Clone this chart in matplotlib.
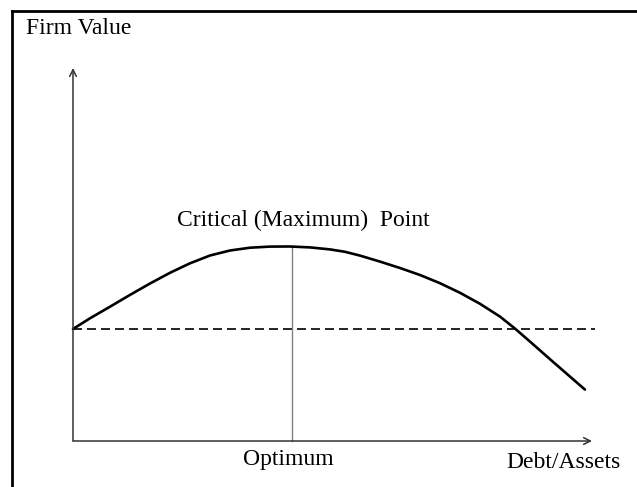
import matplotlib
matplotlib.use("Agg")
import matplotlib.pyplot as plt
from matplotlib.lines import Line2D

# Conceptual data (arbitrary units): debt/assets ratio vs firm value
debt_ratio = [0.00, 0.34, 0.74, 1.14, 1.54, 1.94, 2.34, 2.74, 3.14, 3.54, 3.94, 4.34,
              4.74, 5.14, 5.44, 5.74, 6.14, 6.54, 6.94, 7.34, 7.74, 8.14, 8.54, 8.84,
              9.14, 9.54, 9.94, 10.24]
firm_value = [2.240, 2.454, 2.686, 2.922, 3.150, 3.364, 3.554, 3.710, 3.810, 3.866,
              3.888, 3.890, 3.872, 3.832, 3.784, 3.708, 3.588, 3.460, 3.320, 3.156,
              2.964, 2.744, 2.488, 2.248, 1.988, 1.636, 1.288, 1.028]
unlevered_value = 2.24
optimum_x = 4.38
optimum_y = 3.89
x_axis_end = 10.38
y_axis_end = 7.46
dash_end = 10.44

label_y = "Firm Value"
label_x = "Debt/Assets"
label_peak = "Critical (Maximum)  Point"
label_opt = "Optimum"

fig = plt.figure(figsize=(6.37, 4.87), dpi=100)
ax = fig.add_axes([0, 0, 1, 1])
ax.set_xlim(-1.46, 11.28)
ax.set_ylim(-0.92, 8.82)
ax.axis("off")

serif = "Liberation Serif"
fs = 17

# border (left and top)
fig.add_artist(Line2D([12/637, 12/637], [0, 1 - 10.5/487], transform=fig.transFigure,
                      color="black", lw=2.0))
fig.add_artist(Line2D([12/637, 1], [1 - 10.5/487, 1 - 10.5/487], transform=fig.transFigure,
                      color="black", lw=2.0))

# axes arrows
arrow_kw = dict(arrowstyle="->", color="#333333", lw=1.1, shrinkA=0, shrinkB=0,
                mutation_scale=12)
ax.annotate("", xy=(x_axis_end, 0), xytext=(0, 0), arrowprops=arrow_kw)
ax.annotate("", xy=(0, y_axis_end), xytext=(0, 0), arrowprops=arrow_kw)

# dashed reference line
ax.plot([0, dash_end], [unlevered_value, unlevered_value], color="black", lw=1.2,
        ls=(0, (5.4, 3.0)))

# optimum vertical
ax.plot([optimum_x, optimum_x], [0, optimum_y], color="#808080", lw=1.0)

# curve
ax.plot(debt_ratio, firm_value, color="black", lw=1.9, solid_capstyle="round",
        solid_joinstyle="round")

# texts
ax.text(-0.94, 8.26, label_y, fontsize=fs, family=serif, ha="left", va="center")
ax.text(8.66, -0.44, label_x, fontsize=fs, family=serif, ha="left", va="center")
ax.text(optimum_x - 0.08, -0.37, label_opt, fontsize=fs, family=serif, ha="center", va="center")
ax.text(2.08, 4.42, label_peak, fontsize=fs, family=serif, ha="left", va="center")

fig.savefig("out.png", dpi=100)
